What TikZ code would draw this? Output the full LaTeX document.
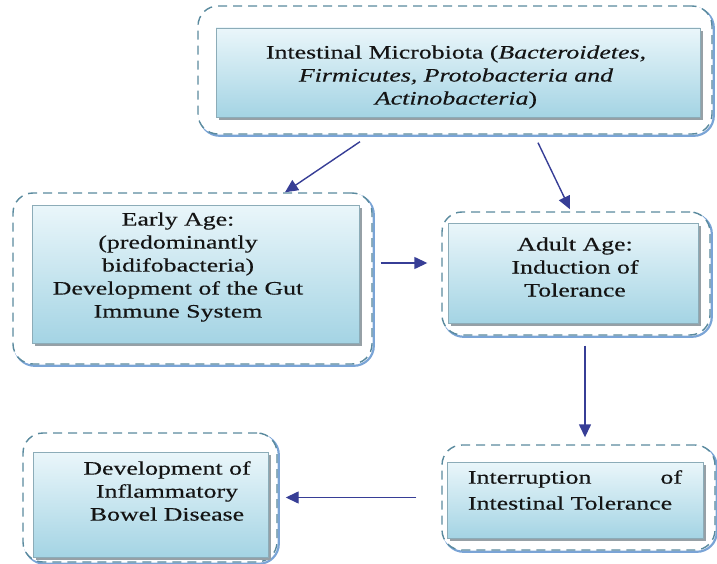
\documentclass[tikz,border=0pt]{standalone}
\usepackage{fontspec}
\setmainfont{Liberation Serif}[FakeStretch=1.36,FakeBold=0.35]
\usetikzlibrary{arrows.meta}

\definecolor{dashc}{RGB}{90,138,158}
\definecolor{dashshadow}{RGB}{122,164,214}
\definecolor{boxtop}{RGB}{234,246,250}
\definecolor{boxbot}{RGB}{164,212,228}
\definecolor{boxedge}{RGB}{140,172,184}
\definecolor{boxshadow}{RGB}{150,160,166}
\definecolor{arrowc}{RGB}{55,62,150}
\definecolor{textc}{RGB}{20,20,20}

\tikzset{
  outerbox/.style={draw=dashc, dash pattern=on 9pt off 6pt, line width=1.4pt,
    rounded corners=20pt, fill=white, inner sep=0pt,
    preaction={draw=dashshadow, solid, line width=2.2pt,
      transform canvas={shift={(1.8pt,-1.8pt)}}}},
  innerbox/.style={draw=boxedge, line width=0.8pt, top color=boxtop,
    bottom color=boxbot, inner sep=0pt,
    preaction={fill=boxshadow, transform canvas={shift={(3pt,-3pt)}}}},
  label/.style={align=center, text=textc, inner sep=0pt,
    font=\fontsize{19}{23}\selectfont},
  arr/.style={draw=arrowc, line width=1.4pt,
    -{Triangle[length=13pt,width=12pt]}},
}

\begin{document}
\begin{tikzpicture}[x=1pt,y=1pt]
\useasboundingbox (0,0) rectangle (717,-564);

% dashed frames
\node[outerbox, minimum width=514pt, minimum height=128pt] (topO) at (455,-70) {};
\node[outerbox, minimum width=359pt, minimum height=171pt] (earlyO) at (192.5,-278.5) {};
\node[outerbox, minimum width=268pt, minimum height=123pt] (adultO) at (576,-273.5) {};
\node[outerbox, minimum width=254pt, minimum height=129pt] (ibdO) at (150,-497.5) {};
\node[outerbox, minimum width=273pt, minimum height=105pt] (intO) at (578.5,-497.5) {};

% shaded panels
\node[innerbox, minimum width=484pt, minimum height=89pt] (topI) at (458,-72.5) {};
\node[innerbox, minimum width=327pt, minimum height=138pt] (earlyI) at (195.5,-274) {};
\node[innerbox, minimum width=250pt, minimum height=100pt] (adultI) at (573,-273) {};
\node[innerbox, minimum width=235pt, minimum height=105pt] (ibdI) at (150.5,-504.5) {};
\node[innerbox, minimum width=256pt, minimum height=76pt] (intI) at (575,-500) {};

% texts
\node[label] (topT) at (456,-77) {Intestinal Microbiota (\textit{Bacteroidetes,}\\
  \textit{Firmicutes, Protobacteria and}\\ \textit{Actinobacteria})};
\node[label] (earlyT) at (178,-267) {Early Age:\\(predominantly\\bidifobacteria)\\
  Development of the Gut\\Immune System};
\node[label] (adultT) at (575,-267) {Adult Age:\\Induction of\\Tolerance};
\node[label] (ibdT) at (167,-491) {Development of\\Inflammatory\\Bowel Disease};
\node[label, align=left, font=\fontsize{19}{26}\selectfont] (intT) at (575,-490)
  {\makebox[214pt]{Interruption\hfill of}\\Intestinal Tolerance};

% connectors
\draw[arr] ([xshift=-95pt,yshift=-7pt]topO.south) -- ([xshift=92.5pt]earlyO.north);
\draw[arr] ([xshift=83pt,yshift=-8pt]topO.south) -- ([xshift=-6pt,yshift=2pt]adultO.north);
\draw[arr] ([xshift=8pt,yshift=15.5pt]earlyO.east) -- ([xshift=-14pt,yshift=10.5pt]adultO.west);
\draw[arr] ([xshift=9pt,yshift=-10pt]adultO.south) -- ([xshift=6.5pt,yshift=7pt]intO.north);
\draw[arr] ([xshift=-25pt]intO.west) -- ([xshift=8pt]ibdO.east);
\end{tikzpicture}
\end{document}
